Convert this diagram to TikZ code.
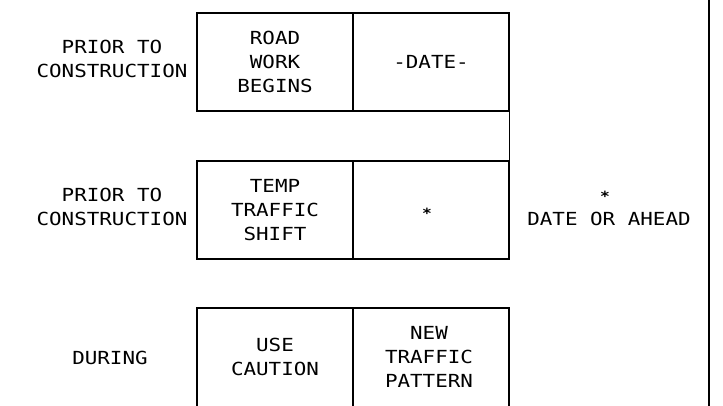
\documentclass[tikz,border=0pt]{standalone}
\usepackage{fontspec}
\newfontfamily\cadfont[FakeStretch=1.16]{DejaVu Sans Mono}
\tikzset{
  cell/.style={draw, line width=1.2pt, minimum width=156pt, minimum height=98pt,
    inner sep=0pt, align=center, font=\cadfont\fontsize{18}{24}\selectfont},
  phase/.style={align=center, font=\cadfont\fontsize{18}{24}\selectfont},
  mark star/.style={font=\cadfont\bfseries\fontsize{14}{14}\selectfont, inner sep=0pt}
}
\begin{document}
\begin{tikzpicture}[x=1pt,y=-1pt]
    \clip (0,0) rectangle (723,406);

    % First sign
    \node[phase] (prior1) at (112,59) {PRIOR TO\\CONSTRUCTION};
    \node[cell] (road) at (275,62) {ROAD\\WORK\\BEGINS};
    \node[cell] (date) at (431,62) {-DATE-};

    % Second sign
    \node[phase] (prior2) at (112,207) {PRIOR TO\\CONSTRUCTION};
    \node[cell] (shift) at (275,210) {TEMP\\TRAFFIC\\SHIFT};
    \node[cell] (star) at (431,210) {};
    \node[mark star] (starmark) at (427,213) {*};
    \draw[line width=1.2pt] (date.south east) -- (star.north east);

    % Note
    \node[mark star] (notemark) at (605,196) {*};
    \node[phase] (note) at (609,219) {DATE OR AHEAD};

    % Third sign (runs off the bottom of the sheet)
    \node[phase] (during) at (110,358) {DURING};
    \node[cell, minimum height=104pt] (caution) at (275,360) {};
    \node[phase] (cautiontext) at (275,357) {USE\\CAUTION};
    \node[cell, minimum height=104pt] (pattern) at (431,360) {};
    \node[phase] (patterntext) at (429,357) {NEW\\TRAFFIC\\PATTERN};

    % Sheet border
    \draw[line width=2.5pt] (709,0) -- (709,406);
\end{tikzpicture}
\end{document}
